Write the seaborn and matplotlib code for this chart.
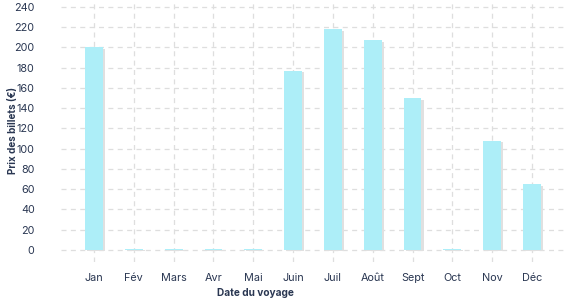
import matplotlib
matplotlib.use("Agg")
import matplotlib.pyplot as plt
import matplotlib.patheffects as pe
import seaborn as sns
import pandas as pd

months = ["Jan", "Fév", "Mars", "Avr", "Mai", "Juin", "Juil", "Août", "Sept", "Oct", "Nov", "Déc"]
prices = [200, 1, 1, 1, 1, 177, 218, 207, 150, 1, 108, 65]
yticks = [0, 20, 40, 60, 80, 100, 120, 140, 160, 180, 200, 220, 240]

df = pd.DataFrame({"Mois": months, "Prix": prices})

sns.set_theme(style="white")
plt.rcParams["font.family"] = ["Inter", "DejaVu Sans"]
text_color = "#2a3752"

fig = plt.figure(figsize=(5.77, 3.0), dpi=100)
ax = fig.add_axes([61 / 577, 38 / 300, 506 / 577, 262 / 300])

sns.barplot(data=df, x="Mois", y="Prix", color="#adeef8", saturation=1,
            width=0.45, ax=ax, order=months)
for p in ax.patches:
    p.set_edgecolor("none")
    p.set_path_effects([pe.SimplePatchShadow(offset=(1.5, -1), shadow_rgbFace="#e0e0e0", alpha=1), pe.Normal()])

ax.set_xlim(-0.83, 11.88)
ax.set_ylim(-11.85, 246.9)
ax.set_yticks(yticks)
ax.set_yticklabels([str(v) for v in yticks])
ax.grid(True, axis="both", color="#dedede", linestyle=(0, (4, 3.5)), linewidth=0.9)
ax.set_axisbelow(True)
for s in ax.spines.values():
    s.set_visible(False)
ax.tick_params(axis="both", length=0, labelsize=7.8, colors=text_color)
ax.tick_params(axis="y", pad=19)
ax.tick_params(axis="x", pad=8)
ax.set_xlabel("Date du voyage", fontsize=7.3, fontweight="bold", color=text_color, va="center")
ax.xaxis.set_label_coords((255 - 61) / 506, -(293 - 262) / 262)
ax.set_ylabel("Prix des billets (€)", fontsize=7.1, fontweight="bold", color=text_color)
ax.yaxis.set_label_coords(-43 / 506, 0.5)

fig.savefig("out.png", dpi=100)
